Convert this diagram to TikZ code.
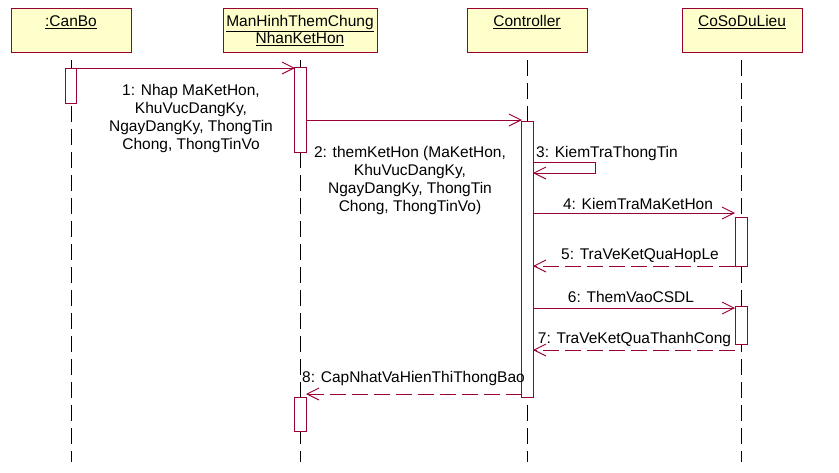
\documentclass[tikz,border=0pt]{standalone}
\usepackage{fontspec}
\setmainfont{Liberation Sans}
\usetikzlibrary{arrows.meta}
\definecolor{ln}{RGB}{153,0,51}
\definecolor{bx}{RGB}{255,255,204}
\begin{document}
\begin{tikzpicture}[x=1pt,y=-1pt,
  obj/.style={draw=ln, fill=bx, line width=0.9pt, minimum height=44pt, anchor=north west, inner sep=0pt},
  objtxt/.style={inner sep=0pt, align=center, font=\fontsize{15.5}{17}\selectfont},
  life/.style={draw=black, line width=0.9pt, dash pattern=on 16pt off 7pt},
  bar/.style={draw=ln, fill=white, line width=0.9pt, minimum width=11.5pt, anchor=north, inner sep=0pt},
  msg/.style={draw=ln, line width=0.9pt, -{Straight Barb[length=12pt,width=12pt,line width=0.9pt]}},
  ret/.style={msg, dash pattern=on 16pt off 6pt},
  lbl/.style={inner sep=0pt, align=center, font=\fontsize{15.5}{18}\selectfont}]
\useasboundingbox (0,0) rectangle (839,472);
% lifelines
\coordinate (l1t) at (71,60); \coordinate (l1b) at (71,462);
\coordinate (l2t) at (300.5,60); \coordinate (l2b) at (300.5,462);
\coordinate (l3t) at (527.5,60); \coordinate (l3b) at (527.5,462);
\coordinate (l4t) at (741,60); \coordinate (l4b) at (741,462);
\draw[life] (l1t) -- (l1b);
\draw[life] (l2t) -- (l2b);
\draw[life] (l3t) -- (l3b);
\draw[life] (l4t) -- (l4b);
% objects
\node[obj, minimum width=120pt] (b1) at (11,8) {};
\node[obj, minimum width=154pt] (b2) at (223,8) {};
\node[obj, minimum width=120pt] (b3) at (467,8) {};
\node[obj, minimum width=120pt] (b4) at (682,8) {};
\node[objtxt] (t1) at (71,22) {\underline{:CanBo}};
\node[objtxt] (t2) at (300,30.5) {\underline{ManHinhThemChung}\\\underline{NhanKetHon}};
\node[objtxt] (t3) at (527,22) {\underline{Controller}};
\node[objtxt] (t4) at (742,22) {\underline{CoSoDuLieu}};
% activation bars
\node[bar, minimum height=35pt] (a1) at (71,68) {};
\node[bar, minimum height=85pt] (a2) at (300.5,67) {};
\node[bar, minimum height=276pt] (a3) at (527.5,121) {};
\node[bar, minimum height=49pt] (a4) at (741.5,217) {};
\node[bar, minimum height=38pt] (a5) at (741.5,306) {};
\node[bar, minimum height=34pt] (a6) at (300.5,397) {};
% message end points
\coordinate (m1s) at (77,68);   \coordinate (m1e) at (295,68);
\coordinate (m2s) at (306,120); \coordinate (m2e) at (522,120);
\coordinate (m3s) at (533,162); \coordinate (m3a) at (595,162);
\coordinate (m3b) at (595,173); \coordinate (m3e) at (533,173);
\coordinate (m4s) at (533,213); \coordinate (m4e) at (735,213);
\coordinate (m5s) at (735,266); \coordinate (m5e) at (533,266);
\coordinate (m6s) at (533,308); \coordinate (m6e) at (735,308);
\coordinate (m7s) at (735,350); \coordinate (m7e) at (533,350);
\coordinate (m8s) at (522,394); \coordinate (m8e) at (306,394);
\draw[msg] (m1s) -- (m1e);
\draw[msg] (m2s) -- (m2e);
\draw[msg] (m3s) -- (m3a) -- (m3b) -- (m3e);
\draw[msg] (m4s) -- (m4e);
\draw[ret] (m5s) -- (m5e);
\draw[msg] (m6s) -- (m6e);
\draw[ret] (m7s) -- (m7e);
\draw[ret] (m8s) -- (m8e);
% labels
\node[lbl] (n1) at (191,118) {1: Nhap MaKetHon,\\KhuVucDangKy,\\NgayDangKy, ThongTin\\Chong, ThongTinVo};
\node[lbl] (n2) at (410,180) {2: themKetHon (MaKetHon,\\KhuVucDangKy,\\NgayDangKy, ThongTin\\Chong, ThongTinVo)};
\node[lbl, anchor=west] (n3) at (536,153) {3: KiemTraThongTin};
\node[lbl] (n4) at (638,204) {4: KiemTraMaKetHon};
\node[lbl] (n5) at (640,256) {5: TraVeKetQuaHopLe};
\node[lbl] (n6) at (631,297) {6: ThemVaoCSDL};
\node[lbl] (n7) at (634.5,339) {7: TraVeKetQuaThanhCong};
\node[lbl] (n8) at (413.5,378) {8: CapNhatVaHienThiThongBao};
\end{tikzpicture}
\end{document}
